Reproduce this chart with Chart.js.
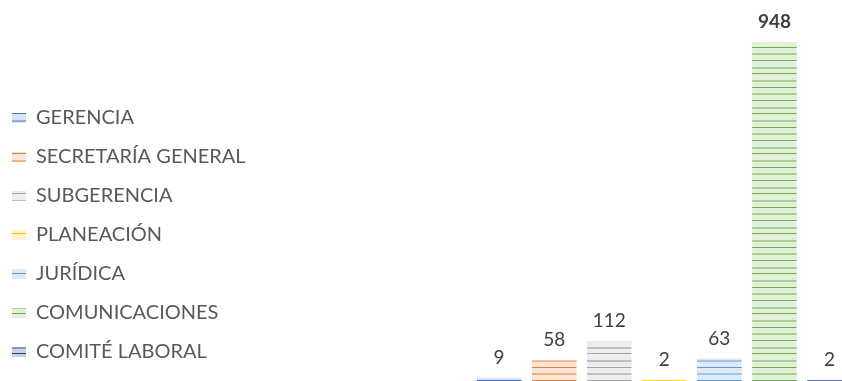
<!DOCTYPE html>
<html>
<head>
<meta charset="utf-8">
<script src="https://cdn.jsdelivr.net/npm/chart.js@4.4.1/dist/chart.umd.min.js"></script>
<style>
  html, body { margin: 0; padding: 0; background: #ffffff; overflow: hidden; }
  body { width: 842px; height: 381px; position: relative; }
  /* the original chart is cropped on the right edge, so the canvas runs past the window */
  #wrap { position: absolute; left: -7px; top: 0; width: 864px; height: 381px; }
</style>
</head>
<body>
<div id="wrap"><canvas id="areasChart"></canvas></div>
<script>
// Data
const areaNames = [
  "GERENCIA",
  "SECRETARÍA GENERAL",
  "SUBGERENCIA",
  "PLANEACIÓN",
  "JURÍDICA",
  "COMUNICACIONES",
  "COMITÉ LABORAL",
];
const areaCounts = [9, 58, 112, 2, 63, 948, 2];

// Excel-like colours: [background tint, dark line, light line]
const areaColors = [
  ["#DAE3F3", "#4472C4", "#8FAADC"],
  ["#FBE5D6", "#ED7D31", "#F4B183"],
  ["#EDEDED", "#A5A5A5", "#BFBFBF"],
  ["#FFF2CC", "#FFC000", "#FFD966"],
  ["#DEEBF7", "#5B9BD5", "#9DC3E6"],
  ["#E2F0D9", "#70AD47", "#A9D18E"],
  ["#C9D3E8", "#264478", "#7F98C8"],
];

const FONT = "Lato, 'Open Sans', sans-serif";

// Horizontal line pattern, like the Excel "narrow horizontal" fill
function makeLinePattern(bg, dark, light) {
  const c = document.createElement("canvas");
  c.width = 8;
  c.height = 40;
  const g = c.getContext("2d");
  g.fillStyle = bg;
  g.fillRect(0, 0, 8, 40);
  [0, 7, 13, 20, 27, 33].forEach((y, i) => {
    g.fillStyle = i % 2 === 0 ? light : dark;
    g.fillRect(0, y, 8, i % 2 === 0 ? 2 : 1);
  });
  return g.createPattern(c, "repeat");
}

// Value labels above the bars
const barValueLabels = {
  id: "barValueLabels",
  afterDatasetsDraw(chart) {
    const ctx = chart.ctx;
    const maxVal = Math.max(...areaCounts);
    ctx.save();
    ctx.textAlign = "center";
    ctx.textBaseline = "middle";
    chart.data.datasets.forEach((ds, i) => {
      const bar = chart.getDatasetMeta(i).data[0];
      if (!bar) return;
      const v = ds.data[0];
      ctx.font = (v === maxVal ? "bold " : "") + "19px " + FONT;
      ctx.fillStyle = "#404040";
      ctx.fillText(String(v), bar.x, bar.y - 20);
    });
    ctx.restore();
  },
};

const datasets = areaNames.map((name, i) => ({
  label: name,
  data: [areaCounts[i]],
  backgroundColor: makeLinePattern(...areaColors[i]),
  borderWidth: 0,
  categoryPercentage: 1,
  barPercentage: 0.81,
  clip: false,
}));

new Chart(document.getElementById("areasChart"), {
  type: "bar",
  data: { labels: [""], datasets: datasets },
  options: {
    responsive: true,
    maintainAspectRatio: false,
    animation: false,
    layout: { padding: { top: 42, bottom: 0, left: 0, right: 0 } },
    plugins: {
      legend: {
        display: true,
        position: "left",
        align: "end",
        maxWidth: 320,
        labels: {
          boxWidth: 14,
          boxHeight: 10,
          padding: 19,
          color: "#595959",
          font: { family: FONT, size: 20 },
        },
      },
      tooltip: { enabled: false },
    },
    scales: {
      x: { display: false },
      y: {
        display: true,
        min: 0,
        max: 948,
        grid: { display: false },
        border: { display: false },
        ticks: { display: false },
        afterFit: (scale) => { scale.width = 216; },
      },
    },
  },
  plugins: [barValueLabels],
});
</script>
</body>
</html>
